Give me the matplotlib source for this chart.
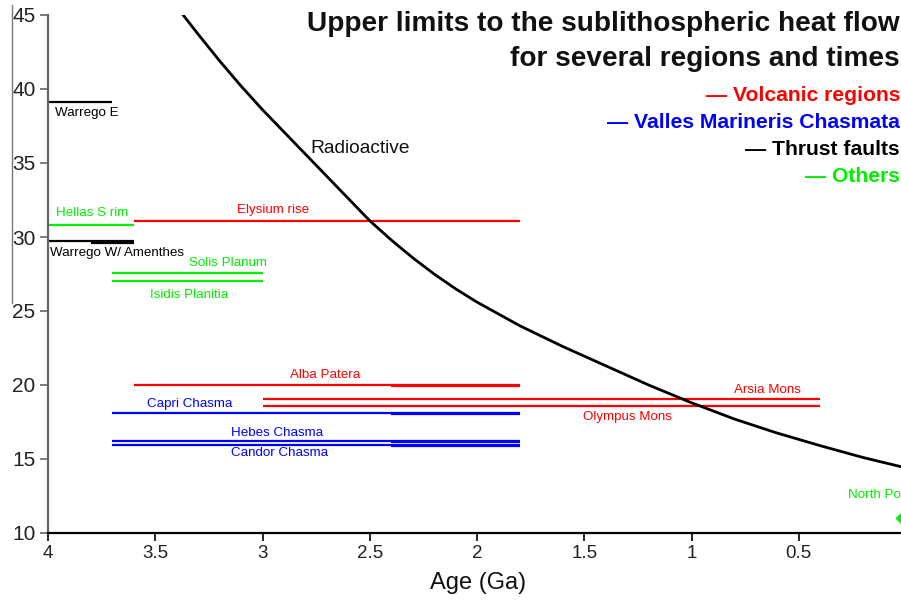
import matplotlib
matplotlib.use("Agg")
import matplotlib.pyplot as plt
from matplotlib.lines import Line2D

plt.rcParams['font.family'] = ['Liberation Sans', 'DejaVu Sans']

# ---- data ----
region_names = ["Warrego E", "Hellas S rim", "Warrego W/ Amenthes", "Elysium rise",
                "Solis Planum", "Isidis Planitia", "Alba Patera", "Arsia Mons",
                "Olympus Mons", "Capri Chasma", "Hebes Chasma", "Candor Chasma"]
region_group = ["thrust", "other", "thrust", "volcanic",
                "other", "other", "volcanic", "volcanic",
                "volcanic", "vmc", "vmc", "vmc"]
heat_flow = [39.1, 30.8, 29.7, 31.1, 27.6, 27.0, 20.0, 19.05, 18.6, 18.1, 16.2, 15.95]
age_old = [3.7, 4.0, 4.0, 3.6, 3.7, 3.7, 3.6, 3.0, 3.0, 3.7, 3.7, 3.7]
age_young = [4.0, 3.6, 3.6, 1.8, 3.0, 3.0, 1.8, 0.4, 0.4, 1.8, 1.8, 1.8]

# overlapping younger sub-intervals (drawn on top, give thicker look)
overlap_names = ["Warrego W/ Amenthes", "Hebes Chasma", "Candor Chasma", "Capri Chasma", "Alba Patera"]
overlap_from = [3.8, 2.4, 2.4, 2.4, 2.4]
overlap_to = [3.6, 1.8, 1.8, 1.8, 1.8]

# label anchor (age, heat flow) for each region label
label_age = [3.82, 3.795, 3.68, 2.95, 3.16, 3.34, 2.71, 0.647, 1.30, 3.34, 2.93, 2.92]
label_hf = [38.4, 31.6, 28.9, 31.8, 28.25, 26.1, 20.7, 19.66, 17.84, 18.7, 16.75, 15.4]

north_pole_age = [0.02]
north_pole_hf = [11.0]

radio_age = [3.37, 3.3, 3.2, 3.1, 3.0, 2.9, 2.8, 2.7, 2.6, 2.5, 2.4, 2.3, 2.2, 2.1, 2.0,
             1.8, 1.6, 1.4, 1.2, 1.0, 0.8, 0.6, 0.4, 0.2, 0.0]
radio_hf = [45.0, 43.7, 41.9, 40.2, 38.6, 37.1, 35.6, 34.1, 32.6, 31.1, 29.8, 28.6, 27.5, 26.5, 25.6,
            24.0, 22.6, 21.3, 20.0, 18.8, 17.7, 16.75, 15.9, 15.1, 14.4]

group_colors = {"volcanic": "#ff0000", "vmc": "#0000ff", "thrust": "#000000", "other": "#00ee00"}
legend_labels = ["\u2014 Volcanic regions", "\u2014 Valles Marineris Chasmata",
                 "\u2014 Thrust faults", "\u2014 Others"]
legend_groups = ["volcanic", "vmc", "thrust", "other"]

x_ticks = [4, 3.5, 3, 2.5, 2, 1.5, 1, 0.5, 0]
x_tick_labels = ["4", "3.5", "3", "2.5", "2", "1.5", "1", "0.5", ""]
y_ticks = [10, 15, 20, 25, 30, 35, 40, 45]

# ---- figure ----
W, H = 901, 603
fig = plt.figure(figsize=(W / 100, H / 100), dpi=100)
ax = fig.add_axes([48 / W, 70 / H, (906 - 48) / W, 518 / H])

for name, grp, hf, a0, a1 in zip(region_names, region_group, heat_flow, age_old, age_young):
    ax.plot([a0, a1], [hf, hf], color=group_colors[grp], lw=1.6, solid_capstyle='butt')

for name, a0, a1 in zip(overlap_names, overlap_from, overlap_to):
    i = region_names.index(name)
    ax.plot([a0, a1], [heat_flow[i] - 0.08, heat_flow[i] - 0.08],
            color=group_colors[region_group[i]], lw=1.6, solid_capstyle='butt')

for name, grp, la, lh in zip(region_names, region_group, label_age, label_hf):
    ax.text(la, lh, name, color=group_colors[grp], fontsize=9.6, ha='center', va='center')

ax.plot(radio_age, radio_hf, color='black', lw=2.0)
ax.text(2.545, 36.0, "Radioactive", fontsize=13.8, ha='center', va='center', color='#111111')

ax.plot(north_pole_age, north_pole_hf, marker='D', color='#00ee00', ms=6, ls='none', clip_on=False)
ax.text(0.27, 12.57, "North Pole", color='#00ee00', fontsize=9.6, ha='left', va='center')

ax.set_xlim(4, 0)
ax.set_ylim(10, 45)
ax.set_xticks(x_ticks)
ax.set_xticklabels(x_tick_labels)
ax.set_yticks(y_ticks)
ax.set_yticklabels([str(v) for v in y_ticks])
ax.tick_params(axis='both', direction='out', length=6, width=1.2)
ax.tick_params(axis='y', colors='#666666', labelcolor='#222222', labelsize=15, pad=3)
ax.tick_params(axis='x', colors='#000000', labelcolor='#222222', labelsize=13.5, pad=3)

for s in ['top', 'right']:
    ax.spines[s].set_visible(False)
ax.spines['left'].set_color('#666666')
ax.spines['left'].set_linewidth(1.6)
ax.spines['bottom'].set_color('#000000')
ax.spines['bottom'].set_linewidth(1.6)

ax.set_xlabel("Age (Ga)", fontsize=17, color='#111111')
ax.xaxis.set_label_coords((478 - 48) / (906 - 48), -0.075)

# title and color legend
fig.text(900 / W, 1 - 24 / H, "Upper limits to the sublithospheric heat flow",
         fontsize=20.2, fontweight='bold', ha='right', va='center', color='#111111')
fig.text(900 / W, 1 - 59 / H, "for several regions and times",
         fontsize=20.2, fontweight='bold', ha='right', va='center', color='#111111')
for k, (lab, grp) in enumerate(zip(legend_labels, legend_groups)):
    fig.text(900 / W, 1 - (95 + 27.3 * k) / H, lab, fontsize=15.2, fontweight='bold',
             ha='right', va='center', color=group_colors[grp])

# stray vertical rule at far left
fig.add_artist(Line2D([12 / W, 12 / W], [1 - 5 / H, 1 - 303 / H], color='#777777', lw=1.0))

fig.savefig("out.png", dpi=100)
